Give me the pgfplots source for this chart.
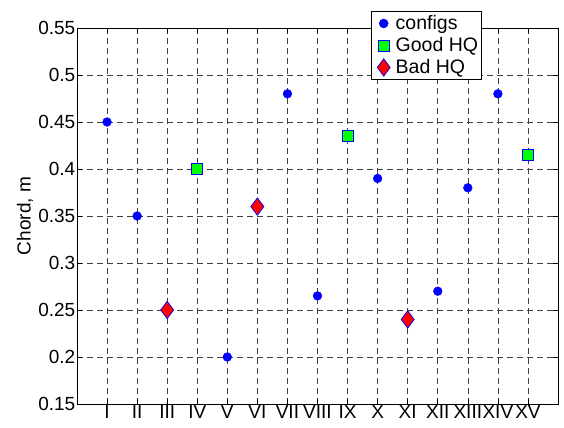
\documentclass[border=0pt]{standalone}
\usepackage{pgfplots}
\pgfplotsset{compat=1.18}
\usepackage{fontspec}
\setmainfont{Liberation Sans}
\begin{document}
\fontsize{19bp}{22bp}\selectfont
\begin{tikzpicture}
\begin{axis}[
  scale only axis, width=481bp, height=376bp,
  xmin=0, xmax=16, ymin=0.15, ymax=0.55,
  xtick={1,2,3,4,5,6,7,8,9,10,11,12,13,14,15},
  xticklabels={I,II,III,IV,V,VI,VII,VIII,IX,X,XI,XII,XIII,XIV,XV},
  ytick={0.15,0.2,0.25,0.3,0.35,0.4,0.45,0.5,0.55},
  yticklabels={0.15,0.2,0.25,0.3,0.35,0.4,0.45,0.5,0.55},
  tick align=inside, major tick length=5bp, tick pos=both,
  tick style={black, line width=0.6bp},
  grid=major,
  major grid style={black!75, line width=0.6bp, dash pattern=on 6bp off 4bp},
  axis line style={black, line width=0.9bp},
  ylabel={Chord, m},
  ylabel shift={1.5bp},
  yticklabel style={inner sep=1.5bp},
  xticklabel style={inner sep=1.5bp},
  ylabel style={inner sep=2bp},
  legend style={at={(0.842,1.045)}, anchor=north east, draw=black, fill=white,
    line width=0.8bp, cells={anchor=west}, row sep=0bp, inner xsep=2bp, inner ysep=1bp,
    nodes={inner xsep=1.5bp, inner ysep=2.5bp},
    font=\fontsize{19.5bp}{23bp}\selectfont},
  legend image code/.code={%
    \path[draw=none, fill=none] (0bp,0bp) -- (21bp,0bp);
    \path[#1] plot[only marks] coordinates {(10.5bp,0bp)};},
  legend image post style={line width=0.6bp},
]
\addplot[only marks, mark=*, mark size=4.4bp, mark options={draw=blue, fill=blue}]
  coordinates {(1,0.45) (2,0.35) (5,0.2) (7,0.48) (8,0.265) (10,0.39) (12,0.27) (13,0.38) (14,0.48)};
\addlegendentry{configs}
\addplot[only marks, mark=square*, mark size=5.5bp, mark options={draw=blue, fill=green, line width=0.7bp}]
  coordinates {(4,0.4) (9,0.435) (15,0.415)};
\addlegendentry{Good HQ}
\addplot[only marks, mark=diamond*, mark size=8.7bp, mark options={draw=blue, fill=red, line width=0.7bp}]
  coordinates {(3,0.25) (6,0.36) (11,0.24)};
\addlegendentry{Bad HQ}
\coordinate (sw) at (rel axis cs:0,0);
\end{axis}
\pgfresetboundingbox
\path (sw) ++(-77bp,-24bp) rectangle ++(564bp,428bp);
\end{tikzpicture}
\end{document}
